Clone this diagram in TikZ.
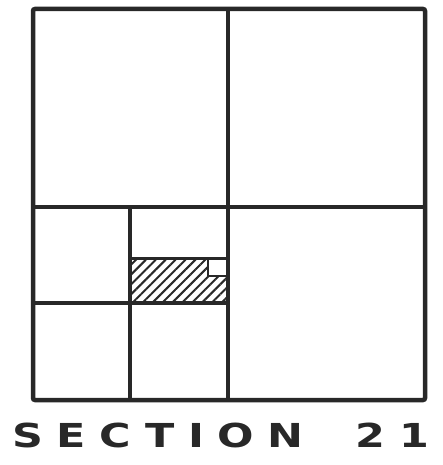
\documentclass[tikz,border=0pt]{standalone}
\usepackage{fontspec}
\usepackage{xcolor}
\usepackage{tikz}
\usetikzlibrary{patterns.meta, positioning}
\newfontfamily\letterfont[LetterSpace=32]{DejaVu Sans}
\definecolor{inkgray}{RGB}{40,40,40}
\tikzset{
    border/.style={draw=inkgray, line width=4.5pt, rounded corners=2pt},
    gridline/.style={draw=inkgray, line width=3.5pt},
    hatched/.style={pattern={Lines[angle=45, distance=7pt, line width=2pt]}, pattern color=inkgray},
    lettering/.style={font=\letterfont\bfseries\fontsize{33}{33}\selectfont, text=inkgray, anchor=base west, inner sep=0pt}
}

\begin{document}
\begin{tikzpicture}[x=1pt, y=-1pt]
    \useasboundingbox (0,0) rectangle (442,465);

    % hatched lot with its small corner cut out
    \fill[hatched] (130,258) -- (208,258) -- (208,276) -- (228,276) -- (228,303) -- (130,303) -- cycle;
    \draw[gridline, line width=2.8pt] (208,258) -- (208,276) -- (228,276);

    % quarter and sixteenth lines
    \draw[gridline] (228,9) -- (228,400);
    \draw[gridline] (33,207) -- (425,207);
    \draw[gridline] (130,207) -- (130,400);
    \draw[gridline] (33,303) -- (228,303);
    \draw[gridline, line width=3pt] (130,258) -- (228,258);

    % section outline
    \draw[border] (33,9) rectangle (425,400);

    % label
    \node[lettering] (title) at (12,447) {\scalebox{1.3}[1]{SECTION\hspace{40pt}21}};
\end{tikzpicture}
\end{document}
